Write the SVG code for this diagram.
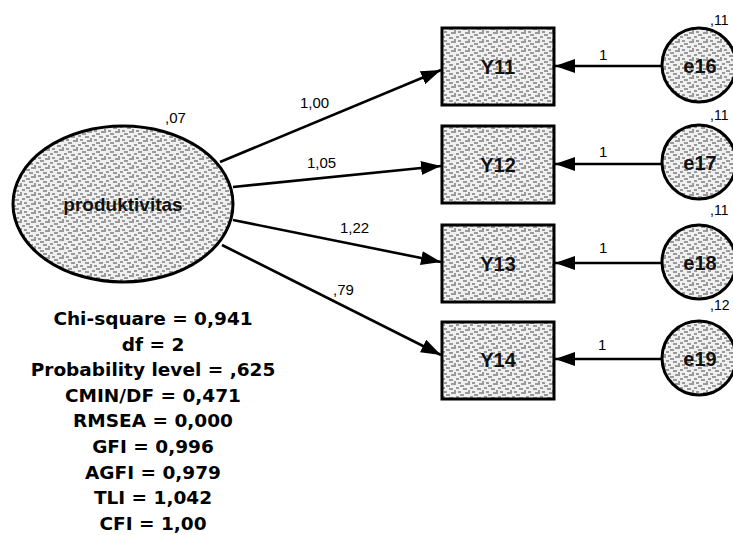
<svg xmlns="http://www.w3.org/2000/svg" width="733" height="535" viewBox="0 0 733 535">
<style>
.node{fill:url(#tex);stroke:#000;stroke-width:3}
.conn{stroke:#000;stroke-width:2.6;fill:none;marker-end:url(#ah)}
.lbl{font-family:"Liberation Sans",Arial,sans-serif;font-size:15px;fill:#000}
.vl{font-family:"Liberation Sans",Arial,sans-serif;font-size:14px;fill:#000}
.nl{font-family:"Liberation Sans",Arial,sans-serif;font-size:20px;font-weight:bold;fill:#111;text-anchor:middle}
.fit{font-family:"DejaVu Sans",sans-serif;font-size:18.5px;font-weight:bold;fill:#000;text-anchor:middle}
</style>
<defs>
<pattern id="tex" width="14" height="9" patternUnits="userSpaceOnUse">
<rect width="14" height="9" fill="#f0f0f0"/>
<path d="M1 2h4M8 1h3M3 6h5M10 5h3M0 8h2M12 8h2M6 4h2" stroke="#444" stroke-width="1"/>
</pattern>
<marker id="ah" viewBox="0 0 20 14" refX="20" refY="7" markerWidth="20" markerHeight="14" markerUnits="userSpaceOnUse" orient="auto">
<path d="M0 0L20 7L0 14z" fill="#000"/>
</marker>
</defs>
<rect width="733" height="535" fill="#fff"/>
<g id="connectors">
<line class="conn" x1="220" y1="162" x2="441" y2="70"/>
<line class="conn" x1="233" y1="187" x2="441" y2="166"/>
<line class="conn" x1="233" y1="220" x2="441" y2="262"/>
<line class="conn" x1="222" y1="245" x2="441" y2="355"/>
<line class="conn" x1="662" y1="66" x2="555" y2="66"/>
<line class="conn" x1="662" y1="164" x2="555" y2="164"/>
<line class="conn" x1="662" y1="263" x2="555" y2="263"/>
<line class="conn" x1="662" y1="359" x2="555" y2="359"/>
<text class="lbl" x="300" y="108">1,00</text>
<text class="lbl" x="307" y="168">1,05</text>
<text class="lbl" x="340" y="233">1,22</text>
<text class="lbl" x="333" y="295">,79</text>
<text class="lbl" x="599" y="60">1</text>
<text class="lbl" x="599" y="157">1</text>
<text class="lbl" x="599" y="253">1</text>
<text class="lbl" x="598" y="350">1</text>
</g>
<g id="produktivitas">
<ellipse class="node" cx="123" cy="204" rx="110" ry="78"/>
<text class="nl" x="123" y="211" style="font-size:19px">produktivitas</text>
<text class="lbl" x="165" y="123">,07</text>
</g>
<g id="Y11"><rect class="node" x="442" y="28" width="112" height="77"/><text class="nl" x="498" y="74">Y11</text></g>
<g id="Y12"><rect class="node" x="442" y="126" width="112" height="77"/><text class="nl" x="498" y="172">Y12</text></g>
<g id="Y13"><rect class="node" x="442" y="225" width="112" height="77"/><text class="nl" x="498" y="271">Y13</text></g>
<g id="Y14"><rect class="node" x="442" y="322" width="112" height="77"/><text class="nl" x="498" y="367">Y14</text></g>
<g id="e16"><circle class="node" cx="699" cy="65" r="37"/><text class="nl" x="700" y="73">e16</text><text class="vl" x="710" y="25">,11</text></g>
<g id="e17"><circle class="node" cx="699" cy="162" r="37"/><text class="nl" x="700" y="170">e17</text><text class="vl" x="710" y="120">,11</text></g>
<g id="e18"><circle class="node" cx="699" cy="262" r="37"/><text class="nl" x="700" y="270">e18</text><text class="vl" x="710" y="215">,11</text></g>
<g id="e19"><circle class="node" cx="699" cy="358" r="37"/><text class="nl" x="700" y="366">e19</text><text class="vl" x="710" y="310">,12</text></g>
<g id="fit">
<text class="fit" x="153" y="325">Chi-square = 0,941</text>
<text class="fit" x="153" y="351">df = 2</text>
<text class="fit" x="153" y="376">Probability level = ,625</text>
<text class="fit" x="153" y="402">CMIN/DF = 0,471</text>
<text class="fit" x="153" y="427">RMSEA = 0,000</text>
<text class="fit" x="153" y="453">GFI = 0,996</text>
<text class="fit" x="153" y="479">AGFI = 0,979</text>
<text class="fit" x="153" y="504">TLI = 1,042</text>
<text class="fit" x="153" y="530">CFI = 1,00</text>
</g>
</svg>
